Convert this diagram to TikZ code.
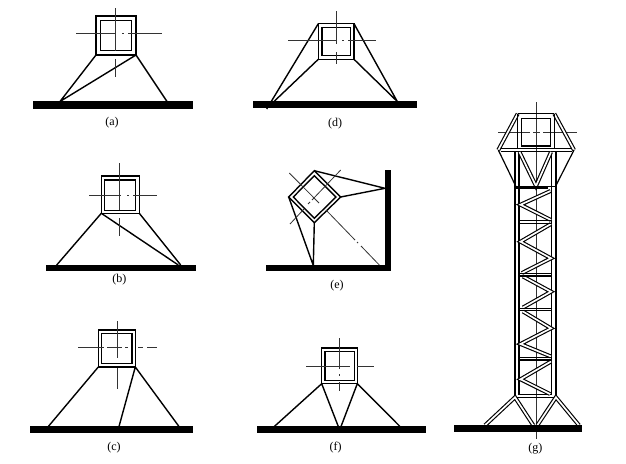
\documentclass[tikz,border=0pt]{standalone}
\usepackage{fontspec}
\setmainfont{Liberation Serif}
\tikzset{
  member/.style={line width=1.4pt,line join=miter},
  wall/.style={fill=black,draw=none},
  axis/.style={line width=.8pt,draw=black!80},
  dbl/.style={draw=black,line width=1.15pt,double=white,double distance=1.7pt},
  figlabel/.style={font=\fontsize{12}{14}\selectfont,inner sep=0pt},
}
\newcommand{\boxaxes}[8]{% x1 x2 xdot-gap y  | x y1 y2 ygap
  \coordinate (hl) at (#1,#4); \coordinate (hr) at (#2,#4);
  \coordinate (vt) at (#5,#6); \coordinate (vb) at (#5,#7);
  \draw[axis] (hl) -- (#3-3,#4) (#3+3,#4) -- (#3+5,#4) (#3+9,#4) -- (hr);
  \draw[axis] (vt) -- (#5,#8-4) (#5,#8+4) -- (vb);
}
\begin{document}
\begin{tikzpicture}[x=1pt,y=-1pt]
\useasboundingbox (0,0) rectangle (626,463);
% (a)
\fill[wall] (33,101.3) rectangle (193,108.5);
\coordinate (aTL) at (96,16); \coordinate (aBR) at (136,55); \coordinate (aBL) at (96,55);
\coordinate (aG1) at (60,101.5); \coordinate (aG2) at (167,101.5);
\draw[member] (aTL) rectangle (aBR);
\draw[member] (100.7,20.7) rectangle (131.7,50.7);
\draw[member] (aBL) -- (aG1) -- (aBR) -- (aG2);
\boxaxes{76}{161.7}{119}{33.7}{115.3}{8}{77}{55}
\node[figlabel] (la) at (112,123) {(a)};
% (b)
\fill[wall] (45.7,264.7) rectangle (195.7,270.7);
\coordinate (bTL) at (101.3,176); \coordinate (bBR) at (139.3,213.3); \coordinate (bBL) at (101.3,213.3);
\coordinate (bG1) at (56.7,265); \coordinate (bG2) at (178.3,265); \coordinate (bG3) at (180.7,265);
\draw[member] (bTL) rectangle (bBR);
\draw[member] (104.7,180) rectangle (135.7,210.3);
\draw[member] (bG1) -- (bBL) -- (bG2) (bBR) -- (bG3);
\boxaxes{89.3}{156.7}{124}{195}{119.3}{163.3}{235.7}{214}
\node[figlabel] (lb) at (119.3,280) {(b)};
% (c)
\fill[wall] (29.5,426.3) rectangle (192.7,433);
\coordinate (cTL) at (98.3,330); \coordinate (cBR) at (135.3,367); \coordinate (cBL) at (98.3,367);
\coordinate (cG1) at (48.3,426.5); \coordinate (cG2) at (119,426.5); \coordinate (cG3) at (179,426.5);
\draw[member] (cTL) rectangle (cBR);
\draw[member] (101.7,333.3) rectangle (132,363.7);
\draw[member] (cBL) -- (cG1) (cBR) -- (cG2) (cBR) -- (cG3);
\coordinate (chl) at (78.3,347.7); \coordinate (chr) at (157.3,347.7);
\draw[axis] (chl) -- (104,347.7) (107,347.7) -- (122,347.7) (125,347.7) -- (128,347.7) (138,347.7) -- (143,347.7) (147,347.7) -- (chr);
\coordinate (cvt) at (117.3,321); \coordinate (cvb) at (117.3,389.3);
\draw[axis] (cvt) -- (117.3,358) (117.3,368) -- (cvb);
\node[figlabel] (lc) at (114,447.3) {(c)};
% (d)
\fill[wall] (252.7,101.3) rectangle (417.3,107.7);
\coordinate (dTL) at (318.3,23.7); \coordinate (dTR) at (354,23.7);
\coordinate (dBL) at (318.3,59.3); \coordinate (dBR) at (354,59.3);
\coordinate (dG1) at (266.7,109); \coordinate (dG2) at (274,101.5); \coordinate (dG3) at (397.3,101.5);
\draw[member] (dTL) rectangle (dBR);
\draw[member] (322,27.3) rectangle (350.7,55.7);
\draw[member] (dG1) -- (dTL) (dG2) -- (dBL) (dTR) -- (dG3) -- (dBR);
\boxaxes{288.3}{375.7}{339}{40.7}{336.7}{11}{64}{48}
\node[figlabel] (ld) at (335,123.3) {(d)};
% (e)
\fill[wall] (385,170.3) rectangle (391.3,271);
\fill[wall] (265.7,265) rectangle (391.3,271);
\coordinate (eT) at (314.3,170.7); \coordinate (eR) at (340.7,197);
\coordinate (eB) at (314.3,222.7); \coordinate (eL) at (288.7,197);
\coordinate (eW) at (385,188.3); \coordinate (eG) at (313.3,265.5);
\draw[member] (eT) -- (eR) -- (eB) -- (eL) -- cycle;
\draw[member] (314.3,175.7) -- (336,197) -- (314.3,218.3) -- (293.3,197) -- cycle;
\draw[member] (eT) -- (eW) -- (eR) (eL) -- (eG) -- (eB);
\coordinate (ea1) at (289.3,173); \coordinate (ea2) at (379.3,265);
\coordinate (ea3) at (340.7,170); \coordinate (ea4) at (290,224);
\draw[axis] (ea1) -- (319,203) (326,210) -- (355,240) (357,242) -- (358,243) (361,246) -- (ea2);
\draw[axis] (ea3) -- (312,200) (310,202) -- (308,204) (304,209) -- (ea4);
\node[figlabel] (le) at (337,285.7) {(e)};
% (f)
\fill[wall] (256.7,426.3) rectangle (426,432.7);
\coordinate (fTL) at (321.7,348); \coordinate (fBR) at (357.3,383.7); \coordinate (fBL) at (321.7,383.7);
\coordinate (fG1) at (274.3,426.5); \coordinate (fG2) at (338.3,426.5); \coordinate (fG3) at (341,426.5); \coordinate (fG4) at (400,426.5);
\draw[member] (fTL) rectangle (fBR);
\draw[member] (325,351.7) rectangle (354.3,380.7);
\draw[member] (fG1) -- (fBL) -- (fG2) (fG3) -- (fBR) -- (fG4);
\coordinate (fhl) at (306.3,366); \coordinate (fhr) at (373.7,366);
\coordinate (fvt) at (339.7,338); \coordinate (fvb) at (339.7,391.3);
\draw[axis] (fhl) -- (350,366) (357,366) -- (fhr);
\draw[axis] (fvt) -- (339.7,369) (339.7,374) -- (339.7,376) (339.7,382) -- (fvb);
\node[figlabel] (lf) at (335.7,447.3) {(f)};
% (g) axis
\coordinate (gvt) at (536,102.3); \coordinate (gvb) at (536,439.3);
\coordinate (ghl) at (498.3,132.7); \coordinate (ghr) at (576.7,132.7);
\draw[axis] (gvt) -- (gvb);
\draw[axis] (ghl) -- (530,132.7) (533,132.7) -- (540,132.7) (543,132.7) -- (ghr);
% head
\coordinate (hTL) at (517.7,113.7); \coordinate (hTR) at (554.3,113.7);
\coordinate (hL) at (498.3,150); \coordinate (hR) at (574,150);
\coordinate (hBL) at (515.7,186); \coordinate (hBR) at (555.7,186);
\draw[dbl] (hL) -- (hTL);
\draw[dbl] (hR) -- (hTR);
\draw[member,line width=1.2pt] (hL) -- (hBL) (hR) -- (hBR);
\draw[member,line width=1.2pt] (hTL) -- (hTR);
\draw[member,line width=1.2pt] (hTL) -- (517.7,149) (hTR) -- (554.3,149);
\draw[member] (521.7,118.3) rectangle (550.7,146);
\draw[member,line width=1.1pt] (500.5,148.6) -- (572,148.6) (500.5,151.4) -- (571.5,151.4);
% tower legs
\coordinate (tL) at (515,397.3); \coordinate (tR) at (555.9,397.3);
\draw[member,line width=1.2pt] (515,151) -- (tL) -- (tR) -- (555.9,151);
\draw[member,line width=1.2pt] (519,151) -- (519,394.7) -- (551.3,394.7) -- (551.3,151);
% top panel V
\coordinate (vA) at (519.5,152); \coordinate (vB) at (536,186); \coordinate (vC) at (551,152);
\draw[dbl] (vA) -- (vB) -- (vC);
% beam
\draw[line width=3pt] (515,187) -- (548,187);
\draw[line width=1.2pt] (548,186.2) -- (555.9,186.2);
% zigzag
\draw[dbl] (550.5,191) -- (520.5,204.7) -- (551,220);
\draw[dbl] (551,224) -- (520.5,241.7) -- (551,258.3) -- (522,273);
\draw[dbl] (523,276.5) -- (551,291.7) -- (523,307.5);
\draw[dbl] (523,311.5) -- (551,328.3) -- (520.5,344) -- (551,356.5);
\draw[dbl] (551,361.5) -- (520.5,379.3) -- (550,394);
% panel bars
\foreach \yy in {222,274.7,309.5,358.7}{
  \draw[line width=1.1pt] (519,\yy-1.3) -- (551.3,\yy-1.3) (519,\yy+1.3) -- (551.3,\yy+1.3);
}
% base
\coordinate (gG1) at (485,425.3); \coordinate (gG2) at (533.3,425.3);
\coordinate (gG3) at (537.3,425.3); \coordinate (gG4) at (579,425.3);
\draw[dbl] (gG1) -- (tL) -- (gG2);
\draw[dbl] (gG3) -- (tR) -- (gG4);
\fill[wall] (454,425.3) rectangle (582,432);
\node[figlabel] (lg) at (535.3,448.3) {(g)};
\end{tikzpicture}
\end{document}
